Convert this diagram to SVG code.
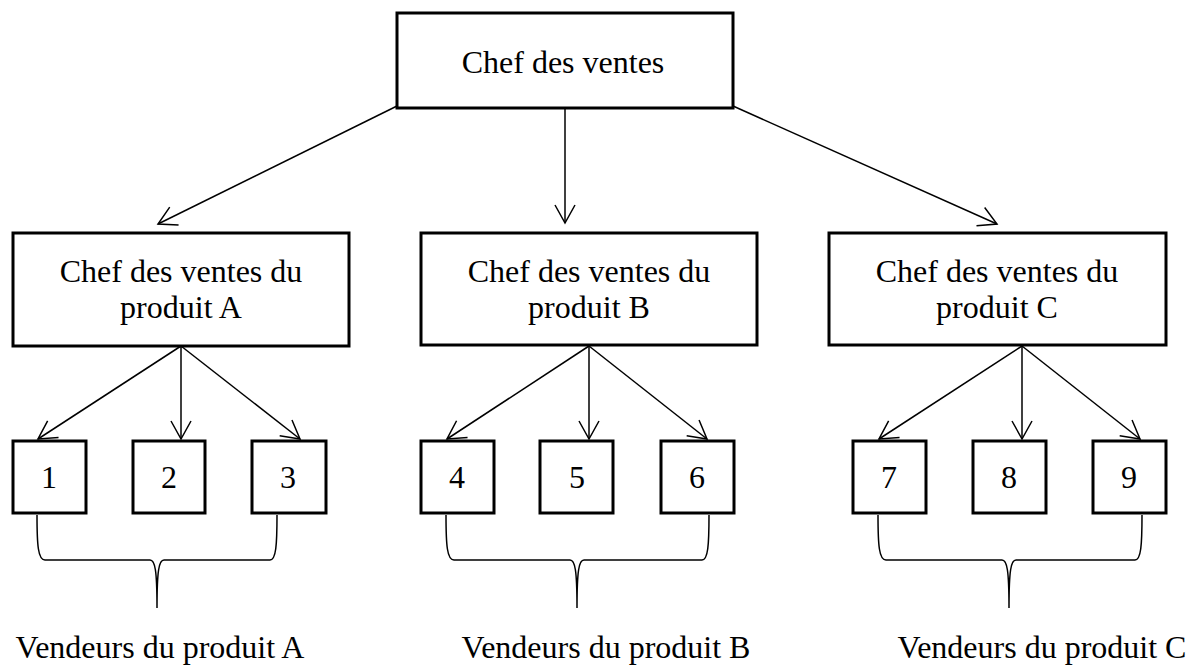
<svg xmlns="http://www.w3.org/2000/svg" width="1195" height="665" viewBox="0 0 1195 665">
<style>
.box{fill:#fff;stroke:#000;stroke-width:3;stroke-linejoin:miter}
.t{font-family:"Liberation Serif","Times New Roman",serif;font-size:32px;fill:#000;text-anchor:middle}
.c{fill:none;stroke:#000;stroke-width:1.5}
.br{fill:none;stroke:#000;stroke-width:1.5}
</style>
<defs>
<marker id="arr" markerUnits="userSpaceOnUse" markerWidth="24" markerHeight="24" viewBox="-20 -12 24 24" refX="0" refY="0" orient="auto">
<path d="M-18,-10 L0,0 L-18,10" fill="none" stroke="#000" stroke-width="1.5"/>
</marker>
</defs>
<g id="connectors">
<line class="c" x1="397" y1="106" x2="158" y2="224" marker-end="url(#arr)"/>
<line class="c" x1="565" y1="108" x2="565" y2="223" marker-end="url(#arr)"/>
<line class="c" x1="733" y1="106" x2="997" y2="224" marker-end="url(#arr)"/>
<line class="c" x1="181" y1="346" x2="38" y2="439" marker-end="url(#arr)"/>
<line class="c" x1="181" y1="346" x2="181" y2="439" marker-end="url(#arr)"/>
<line class="c" x1="181" y1="346" x2="300" y2="439" marker-end="url(#arr)"/>
<line class="c" x1="589" y1="346" x2="447" y2="439" marker-end="url(#arr)"/>
<line class="c" x1="589" y1="346" x2="589" y2="439" marker-end="url(#arr)"/>
<line class="c" x1="589" y1="346" x2="707" y2="439" marker-end="url(#arr)"/>
<line class="c" x1="1022" y1="346" x2="879" y2="439" marker-end="url(#arr)"/>
<line class="c" x1="1022" y1="346" x2="1022" y2="439" marker-end="url(#arr)"/>
<line class="c" x1="1022" y1="346" x2="1140" y2="439" marker-end="url(#arr)"/>
</g>
<g id="chef">
<rect class="box" x="397" y="13" width="336" height="95"/>
<text class="t" x="563" y="73">Chef des ventes</text>
</g>
<g id="chefA">
<rect class="box" x="13" y="233" width="336" height="113"/>
<text class="t" x="181" y="282">Chef des ventes du</text>
<text class="t" x="181" y="318">produit A</text>
</g>
<g id="chefB">
<rect class="box" x="421" y="233" width="336" height="112"/>
<text class="t" x="589" y="282">Chef des ventes du</text>
<text class="t" x="589" y="318">produit B</text>
</g>
<g id="chefC">
<rect class="box" x="829" y="233" width="337" height="112"/>
<text class="t" x="997" y="282">Chef des ventes du</text>
<text class="t" x="997" y="318">produit C</text>
</g>
<g id="v1"><rect class="box" x="13" y="441" width="73" height="72"/><text class="t" x="49" y="488">1</text></g>
<g id="v2"><rect class="box" x="133" y="441" width="72" height="72"/><text class="t" x="169" y="488">2</text></g>
<g id="v3"><rect class="box" x="252" y="441" width="74" height="72"/><text class="t" x="288" y="488">3</text></g>
<g id="v4"><rect class="box" x="421" y="441" width="73" height="72"/><text class="t" x="457" y="488">4</text></g>
<g id="v5"><rect class="box" x="540" y="441" width="73" height="72"/><text class="t" x="577" y="488">5</text></g>
<g id="v6"><rect class="box" x="661" y="441" width="73" height="72"/><text class="t" x="697" y="488">6</text></g>
<g id="v7"><rect class="box" x="853" y="441" width="73" height="72"/><text class="t" x="889" y="488">7</text></g>
<g id="v8"><rect class="box" x="973" y="441" width="73" height="72"/><text class="t" x="1009" y="488">8</text></g>
<g id="v9"><rect class="box" x="1093" y="441" width="73" height="72"/><text class="t" x="1129" y="488">9</text></g>
<g id="groupA">
<path class="br" d="M37,515 C37,545 38,560 45,560 L150,560 C155,560 157,570 157,608 M157,608 C157,570 159,560 164,560 L270,560 C276,560 277,545 277,515"/>
<text class="t" x="160" y="658">Vendeurs du produit A</text>
</g>
<g id="groupB">
<path class="br" d="M446,515 C446,545 447,560 454,560 L570,560 C575,560 577,570 577,608 M577,608 C577,570 579,560 584,560 L702,560 C708,560 709,545 709,515"/>
<text class="t" x="606" y="658">Vendeurs du produit B</text>
</g>
<g id="groupC">
<path class="br" d="M878,515 C878,545 879,560 886,560 L1002,560 C1007,560 1009,570 1009,608 M1009,608 C1009,570 1011,560 1016,560 L1135,560 C1141,560 1142,545 1142,515"/>
<text class="t" x="1042" y="658">Vendeurs du produit C</text>
</g>
</svg>
